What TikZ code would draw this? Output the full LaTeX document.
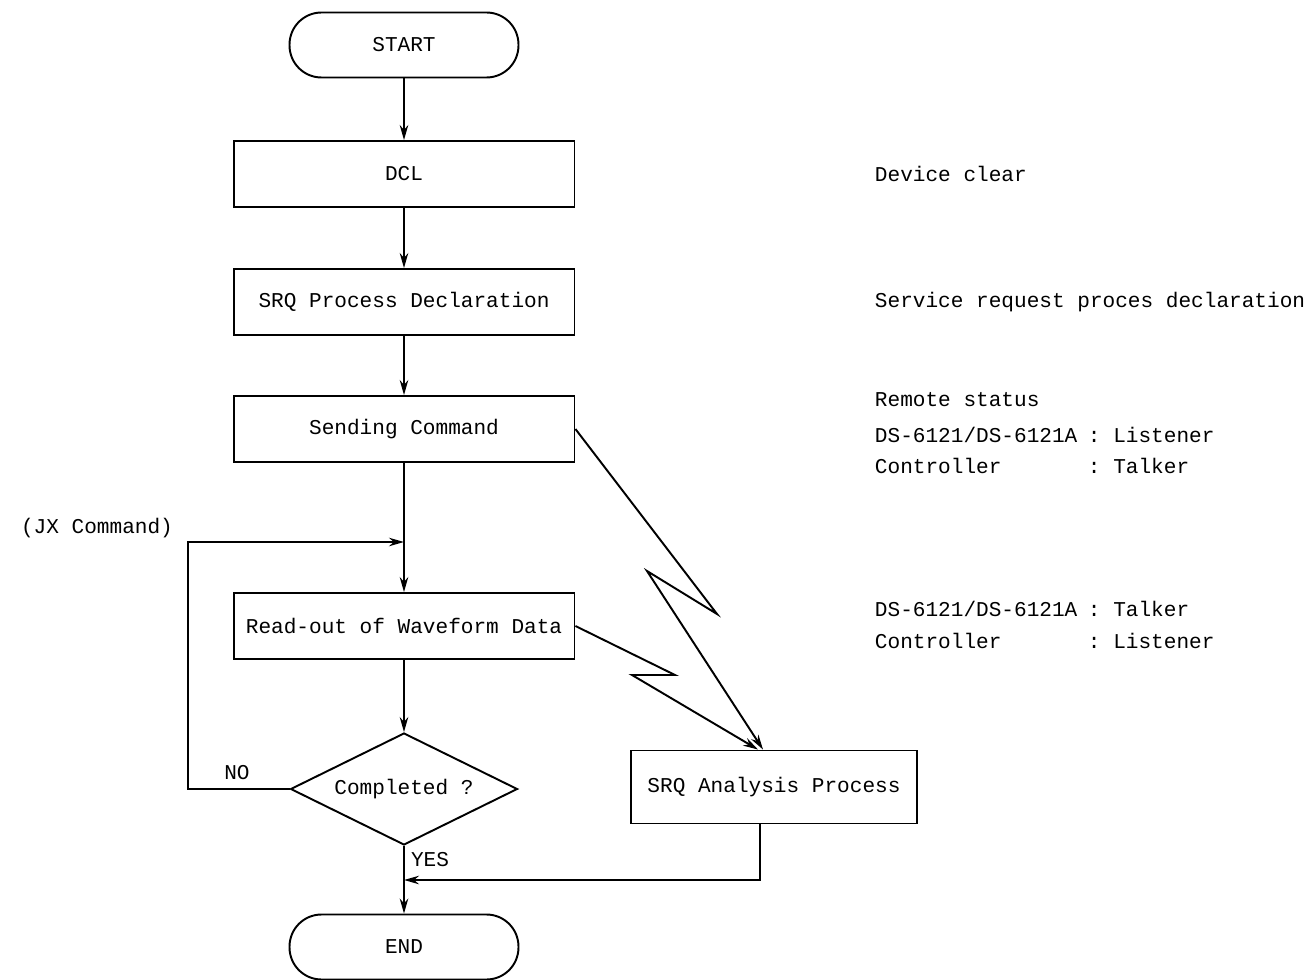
\documentclass[tikz,border=0pt]{standalone}
\usepackage{fontspec}
\setmonofont{Liberation Mono}
\usetikzlibrary{shapes.geometric,arrows.meta,calc}

\begin{document}
\begin{tikzpicture}[
        x=0.02cm, y=-0.02cm,
        font=\ttfamily\fontsize{12}{14}\selectfont,
        line width=1.1pt,
        arr/.style={-{Stealth[length=3mm, width=1.7mm]}},
        terminal box/.style={draw, rounded corners=0.64cm, minimum width=4.58cm, minimum height=1.3cm},
        process box/.style={draw, minimum width=6.82cm, minimum height=1.32cm},
        decision box/.style={draw, diamond, aspect=2, inner sep=0pt, minimum width=4.54cm, minimum height=2.24cm},
        note/.style={anchor=west, inner sep=0pt},
    ]
    \useasboundingbox (0,0) rectangle (1313,980);

    % Start and end
    \node[terminal box] (start) at (404,45) {START};
    \node[terminal box] (end) at (404,947) {END};

    % Process boxes of the main column
    \foreach \name/\y/\txt in {dcl/174/DCL, srq/302/SRQ Process Declaration,
            send/429/Sending Command, read/626/Read-out of Waveform Data} {
        \node[process box] (\name) at (404,\y) {\txt};
    }

    % Decision and analysis
    \node[decision box] (done) at (404,789) {Completed ?};
    \node[process box, minimum width=5.72cm, minimum height=1.46cm] (analysis) at (774,787) {SRQ Analysis Process};

    % Junctions
    \coordinate (loopin) at (404,542);
    \coordinate (merge) at (404,880);

    % Main flow
    \draw[arr] (start) -- (dcl);
    \draw[arr] (dcl) -- (srq);
    \draw[arr] (srq) -- (send);
    \draw[arr] (send) -- (read);
    \draw[arr] (read) -- (done);
    \draw[arr] (done) -- (end);

    % NO loop back
    \draw[arr] (done.west) -- (188,789) -- (188,542) -- (loopin);
    \node at (237,773) {NO};
    \node at (97,528) {(JX Command)};
    \node at (430,860) {YES};

    % Return from analysis
    \draw[arr] ($(analysis.south)+(-14,0)$) |- (merge);

    % Interrupt (SRQ) lines
    \draw[arr] (send.east) -- (717,614) -- (647,571) -- ($(analysis.north)+(-11,0)$);
    \draw[arr] (read.east) -- (675,675) -- (632,675) -- ($(analysis.north)+(-16,0)$);

    % Notes on the right
    \node[note] (n1) at (874,174) {Device clear};
    \node[note] (n2) at (874,302) {Service request proces declaration};
    \node[note] (n3) at (874,400) {Remote status};
    \foreach \y/\lft/\rgt in {435/{DS-6121/DS-6121A}/Listener, 466/Controller/Talker,
            609/{DS-6121/DS-6121A}/Talker, 641/Controller/Listener} {
        \node[note] at (874,\y) {\lft};
        \node[note] at (1087,\y) {: \rgt};
    }

\end{tikzpicture}
\end{document}
